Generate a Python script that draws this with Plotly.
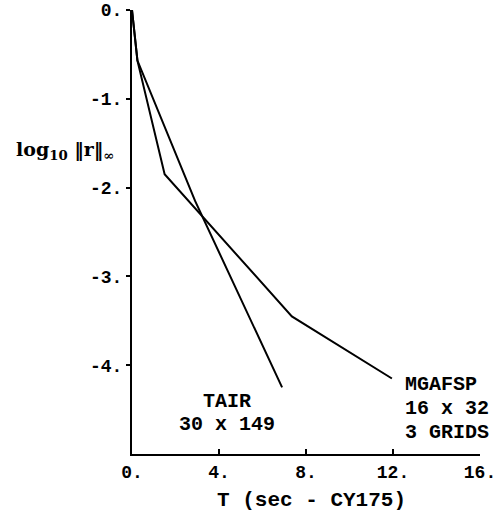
import plotly.graph_objects as go

# Data
tair_t = [0.0, 0.25, 2.9, 6.7, 6.9]
tair_log = [0.0, -0.57, -2.15, -4.15, -4.25]

mgafsp_t = [0.0, 0.25, 1.5, 7.35, 11.95]
mgafsp_log = [0.0, -0.57, -1.85, -3.45, -4.15]

x_ticks = [0, 4, 8, 12, 16]
x_ticktext = ["0.", "4.", "8.", "12.", "16."]
y_ticks = [0, -1, -2, -3, -4]
y_ticktext = ["0.", "-1.", "-2.", "-3.", "-4."]

FONT = "Liberation Mono"

fig = go.Figure()
fig.add_trace(go.Scatter(x=tair_t, y=tair_log, mode="lines", name="TAIR",
                         line=dict(color="black", width=2), showlegend=False))
fig.add_trace(go.Scatter(x=mgafsp_t, y=mgafsp_log, mode="lines", name="MGAFSP",
                         line=dict(color="black", width=2), showlegend=False))

fig.update_layout(
    width=498, height=528,
    margin=dict(l=132, r=18, t=10, b=74),
    paper_bgcolor="white", plot_bgcolor="white",
    font=dict(family=FONT, color="black"),
    xaxis=dict(range=[0, 16], tickvals=x_ticks, ticktext=x_ticktext,
               automargin=False, ticklabeloverflow="allow",
               showgrid=False, zeroline=False, showline=True, linecolor="black",
               linewidth=2, ticks="inside", ticklen=5, tickwidth=1.5, tickcolor="black",
               tickfont=dict(family=FONT, size=18, color="black", weight="bold")),
    yaxis=dict(range=[-5, 0], tickvals=y_ticks, ticktext=y_ticktext,
               automargin=False, ticklabeloverflow="allow",
               showgrid=False, zeroline=False, showline=True, linecolor="black",
               linewidth=2, ticks="outside", ticklen=4, tickwidth=1.5, tickcolor="black",
               tickfont=dict(family=FONT, size=18, color="black", weight="bold")),
)

# Curve labels
def label(text, x, y, xanchor):
    fig.add_annotation(x=x, y=y, xref="x", yref="y", text=text, showarrow=False,
                       xanchor=xanchor, yanchor="middle",
                       font=dict(family=FONT, size=20, color="black", weight="bold"))

label("TAIR", 4.37, -4.41, "center")
label("30 x 149", 4.37, -4.67, "center")
label("MGAFSP", 12.45, -4.22, "left")
label("16 x 32", 12.45, -4.49, "left")
label("3 GRIDS", 12.45, -4.76, "left")

# Axis titles (plot area spans 348 x 444 px)
fig.add_annotation(x=(65 - 132) / 348, y=(454 - 150) / 444, xref="paper", yref="paper",
                   text="<b>log<sub>10</sub> ‖r‖<sub>∞</sub></b>", showarrow=False,
                   xanchor="center", yanchor="middle",
                   font=dict(family="DejaVu Serif", size=19, color="black"))
fig.add_annotation(x=(311 - 132) / 348, y=(454 - 500) / 444, xref="paper", yref="paper",
                   text="T (sec - CY175)", showarrow=False,
                   xanchor="center", yanchor="middle",
                   font=dict(family=FONT, size=21, color="black", weight="bold"))

fig.write_html(
    "out.html",
    config={"displayModeBar": False},
    post_script="document.body.style.margin='0';document.body.style.overflow='hidden';",
)
